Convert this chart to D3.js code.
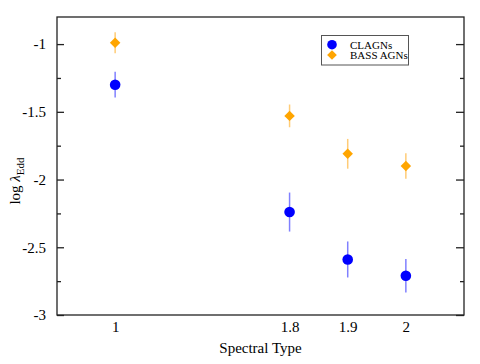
<!DOCTYPE html>
<html>
<head>
<meta charset="utf-8">
<script src="https://cdn.jsdelivr.net/npm/d3@7"></script>
<style>
  body { margin: 0; background: #fff; }
  text { font-family: "Liberation Serif", "DejaVu Serif", serif; }
</style>
</head>
<body>
<div id="chart"></div>
<script>
// spectral types on the x axis
var types = [1, 1.8, 1.9, 2];
var typeLabels = ["1", "1.8", "1.9", "2"];

// log lambda_Edd and error bars
var clagn = [-1.30, -2.24, -2.59, -2.71];
var clagnErr = [0.095, 0.144, 0.133, 0.124];
var bass = [-0.99, -1.53, -1.81, -1.90];
var bassErr = [0.077, 0.084, 0.11, 0.094];

var yTicks = [-3, -2.5, -2, -1.5, -1];
var yMinor = [-2.75, -2.25, -1.75, -1.25];

function init() {
    var w = 480, h = 364;
    var pLeft = 57, pRight = 464, pTop = 17, pBottom = 315;
    var pw = pRight - pLeft;

    var svg = d3.select("#chart").append("svg")
        .attr("width", w).attr("height", h);

    // broken scale: 1 -> 1.8 compressed like the original
    var xScale = d3.scaleLinear()
        .domain([0.9, 1, 1.8, 2.1])
        .range([pLeft, pLeft + pw / 7, pLeft + 4 * pw / 7, pRight]);

    var yScale = d3.scaleLinear()
        .domain([-3, -0.8])
        .range([pBottom, pTop]);

    // frame
    svg.append("rect")
        .attr("x", pLeft).attr("y", pTop)
        .attr("width", pw).attr("height", pBottom - pTop)
        .attr("fill", "none").attr("stroke", "#222").attr("stroke-width", 1.3);

    function styleAxis(g) {
        g.select(".domain").remove();
        g.selectAll("line").attr("stroke", "#222").attr("stroke-width", 1.3);
        g.selectAll("text").attr("font-size", 15).attr("fill", "#000")
            .attr("font-family", "Liberation Serif");
    }

    // left axis: ticks inward
    svg.append("g")
        .attr("transform", "translate(" + pLeft + ",0)")
        .call(d3.axisLeft(yScale).tickValues(yTicks).tickSize(-7).tickPadding(11)
            .tickFormat(function(d) { return String(d); }))
        .call(styleAxis);

    svg.append("g")
        .attr("transform", "translate(" + pLeft + ",0)")
        .call(d3.axisLeft(yScale).tickValues(yMinor).tickSize(-4).tickFormat(""))
        .call(styleAxis);

    // right axis: ticks inward, no labels
    svg.append("g")
        .attr("transform", "translate(" + pRight + ",0)")
        .call(d3.axisRight(yScale).tickValues(yTicks).tickSize(-8).tickFormat(""))
        .call(styleAxis);

    svg.append("g")
        .attr("transform", "translate(" + pRight + ",0)")
        .call(d3.axisRight(yScale).tickValues(yMinor).tickSize(-4).tickFormat(""))
        .call(styleAxis);

    // bottom labels, no tick marks
    svg.append("g")
        .attr("transform", "translate(0," + pBottom + ")")
        .call(d3.axisBottom(xScale).tickValues(types).tickSize(0).tickPadding(6)
            .tickFormat(function(d, i) { return typeLabels[i]; }))
        .call(styleAxis);

    // axis titles
    svg.append("text")
        .attr("x", (pLeft + pRight) / 2).attr("y", 353)
        .attr("text-anchor", "middle")
        .attr("font-size", 15)
        .text("Spectral Type");

    var yl = svg.append("text")
        .attr("transform", "translate(20,181) rotate(-90)")
        .attr("text-anchor", "middle")
        .attr("font-size", 15);
    yl.append("tspan").text("log ");
    yl.append("tspan").attr("font-style", "italic").text("λ");
    yl.append("tspan").attr("font-size", 11).attr("dy", 4).text("Edd");

    // error bars
    function errBars(vals, errs, color) {
        svg.append("g").selectAll("line")
            .data(types)
            .enter().append("line")
            .attr("x1", function(d) { return xScale(d); })
            .attr("x2", function(d) { return xScale(d); })
            .attr("y1", function(d, i) { return yScale(vals[i] - errs[i]); })
            .attr("y2", function(d, i) { return yScale(vals[i] + errs[i]); })
            .attr("stroke", color)
            .attr("stroke-width", 1.5);
    }
    errBars(bass, bassErr, "#ffcc77");
    errBars(clagn, clagnErr, "#8080ff");

    // BASS diamonds
    svg.append("g").selectAll("path")
        .data(types)
        .enter().append("path")
        .attr("d", d3.symbol().type(d3.symbolDiamond2).size(70))
        .attr("transform", function(d, i) {
            return "translate(" + xScale(d) + "," + yScale(bass[i]) + ")";
        })
        .attr("fill", "#ffa500");

    // CLAGN circles
    svg.append("g").selectAll("circle")
        .data(types)
        .enter().append("circle")
        .attr("cx", function(d) { return xScale(d); })
        .attr("cy", function(d, i) { return yScale(clagn[i]); })
        .attr("r", 5.3)
        .attr("fill", "#0000ff");

    // legend
    var lg = svg.append("g");
    lg.append("rect")
        .attr("x", 321.5).attr("y", 35.5)
        .attr("width", 87).attr("height", 29.5)
        .attr("fill", "#fff").attr("stroke", "#555").attr("stroke-width", 1);
    lg.append("circle")
        .attr("cx", 332).attr("cy", 44.7).attr("r", 4.8)
        .attr("fill", "#0000ff");
    lg.append("path")
        .attr("d", d3.symbol().type(d3.symbolDiamond2).size(60))
        .attr("transform", "translate(332,55)")
        .attr("fill", "#ffa500");
    lg.append("text").attr("x", 350).attr("y", 48.5)
        .attr("font-size", 11).text("CLAGNs");
    lg.append("text").attr("x", 350).attr("y", 59)
        .attr("font-size", 11).text("BASS AGNs");
}

window.onload = init;
</script>
</body>
</html>
